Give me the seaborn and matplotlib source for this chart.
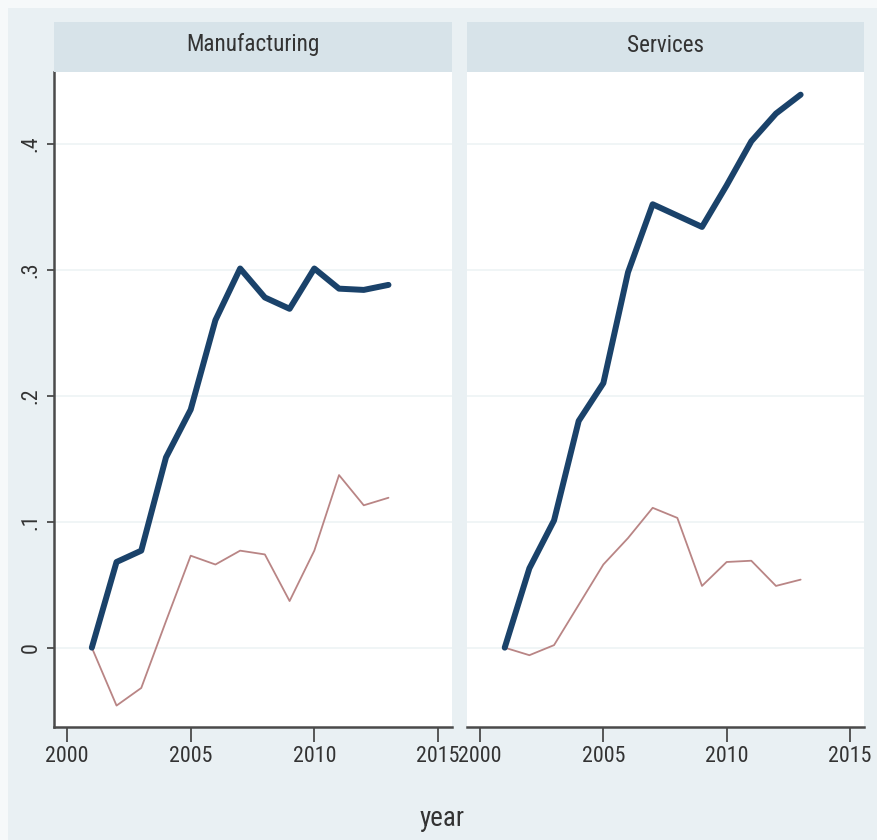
import matplotlib
matplotlib.use("Agg")
import matplotlib.pyplot as plt
from matplotlib import font_manager
import seaborn as sns
import pandas as pd
from matplotlib.patches import Rectangle

years = [2001, 2002, 2003, 2004, 2005, 2006, 2007, 2008, 2009, 2010, 2011, 2012, 2013]
panels = ["Manufacturing", "Services"]
manuf_blue = [0.0, 0.068, 0.077, 0.151, 0.189, 0.260, 0.301, 0.278, 0.269, 0.301, 0.285, 0.284, 0.288]
manuf_red = [0.0, -0.046, -0.032, 0.021, 0.073, 0.066, 0.077, 0.074, 0.037, 0.077, 0.137, 0.113, 0.119]
serv_blue = [0.0, 0.063, 0.101, 0.180, 0.210, 0.298, 0.352, 0.343, 0.334, 0.367, 0.402, 0.424, 0.439]
serv_red = [0.0, -0.006, 0.002, 0.034, 0.066, 0.087, 0.111, 0.103, 0.049, 0.068, 0.069, 0.049, 0.054]
xticks = [2000, 2005, 2010, 2015]
yticks = [0, 0.1, 0.2, 0.3, 0.4]
ytick_labels = ["0", ".1", ".2", ".3", ".4"]

sns.set_theme(style="white")

# pick a narrow font if one is installed
names = {f.name for f in font_manager.fontManager.ttflist}
narrow = None
for cand in ["Liberation Sans Narrow", "Roboto Condensed", "Open Sans Condensed"]:
    if cand in names:
        narrow = cand
        break
stretch = "normal"
if narrow is None:
    if any(f.name == "DejaVu Sans" and str(f.stretch) == "condensed" for f in font_manager.fontManager.ttflist):
        narrow = "DejaVu Sans"
        stretch = "condensed"
    else:
        narrow = "Liberation Sans"
plt.rcParams['font.family'] = [narrow, 'Liberation Sans', 'DejaVu Sans']
plt.rcParams['font.stretch'] = stretch

# width scale relative to Liberation Sans
wscale = {"Liberation Sans Narrow": 0.82, "Roboto Condensed": 0.9, "Open Sans Condensed": 0.85,
          "DejaVu Sans": 1.03, "Liberation Sans": 1.0}.get(narrow, 1.0)

BG = "#e9f0f3"
STRIP = "#d7e3e9"
NAVY = "#1a426a"
MAROON = "#b98585"
AXC = "#4a4a4a"
TXT = "#333333"

W, H = 877, 840
fig = plt.figure(figsize=(8.77, 8.4), dpi=100, facecolor="#f6f9fa")

def fx(px):
    return px / W

def fy(py):
    return 1 - py / H

fig.patches.append(Rectangle((fx(8), 0), fx(W - 8), fy(8), transform=fig.transFigure,
                             facecolor=BG, edgecolor="none", zorder=-5))

panel_px = [(54, 452), (467, 864)]
top_px, bot_px = 72, 727
strip_top = 22

data = {
    "Manufacturing": (manuf_blue, manuf_red),
    "Services": (serv_blue, serv_red),
}

tick_fs = 14.3 / wscale
for i, name in enumerate(panels):
    x0, x1 = panel_px[i]
    ax = fig.add_axes([fx(x0), fy(bot_px), fx(x1 - x0), (bot_px - top_px) / H])
    ax.set_facecolor("white")
    blue, red = data[name]
    df = pd.DataFrame({"year": years, "blue": blue, "red": red})
    sns.lineplot(data=df, x="year", y="red", ax=ax, color=MAROON, linewidth=1.3)
    sns.lineplot(data=df, x="year", y="blue", ax=ax, color=NAVY, linewidth=4.3)
    ax.set_xlim(1999.47, 2015.57)
    ax.set_ylim(-0.063, 0.457)
    ax.set_xticks(xticks)
    ax.set_xticklabels([str(t) for t in xticks], fontsize=tick_fs)
    ax.set_yticks(yticks)
    for y in yticks:
        ax.axhline(y, color="#eef3f5", linewidth=1.2, zorder=0)
    ax.set_xlabel("")
    ax.set_ylabel("")
    for s in ["top", "right"]:
        ax.spines[s].set_visible(False)
    ax.spines["bottom"].set_color(AXC)
    ax.spines["bottom"].set_linewidth(1.8)
    ax.tick_params(axis="x", direction="out", length=11, width=1.3, color=AXC,
                   labelcolor=TXT, pad=3, bottom=True)
    if i == 0:
        ax.spines["left"].set_color(AXC)
        ax.spines["left"].set_linewidth(1.8)
        ax.set_yticklabels(ytick_labels, fontsize=tick_fs, rotation=90, va="center")
        ax.tick_params(axis="y", direction="out", length=5, width=1.3, color=AXC,
                       labelcolor=TXT, pad=4, left=True)
    else:
        ax.spines["left"].set_visible(False)
        ax.set_yticklabels([])
        ax.tick_params(axis="y", left=False)
    fig.patches.append(Rectangle((fx(x0), fy(top_px)), fx(x1 - x0), (top_px - strip_top) / H,
                                 transform=fig.transFigure, facecolor=STRIP, edgecolor="none", zorder=0))
    fig.text(fx((x0 + x1) / 2), fy(45), name, ha="center", va="center",
             fontsize=15 / wscale, color=TXT)

fig.text(fx(442), fy(818), "year", ha="center", va="center", fontsize=17.5 / wscale, color=TXT)

fig.savefig("out.png", dpi=100, facecolor=fig.get_facecolor())
